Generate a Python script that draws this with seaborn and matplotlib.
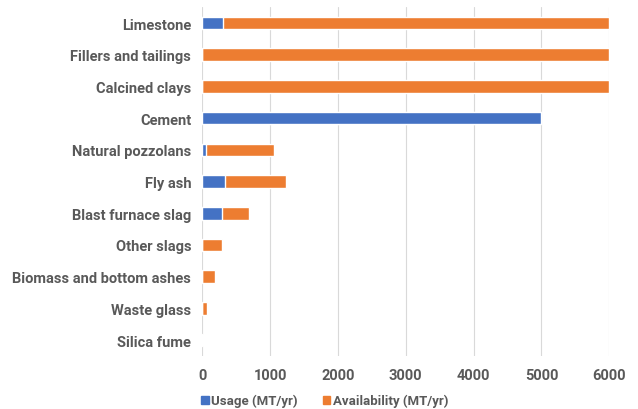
import matplotlib
matplotlib.use("Agg")
import matplotlib.pyplot as plt
from matplotlib.patches import Patch
import pandas as pd
import seaborn as sns

materials = [
    "Limestone", "Fillers and tailings", "Calcined clays", "Cement",
    "Natural pozzolans", "Fly ash", "Blast furnace slag", "Other slags",
    "Biomass and bottom ashes", "Waste glass", "Silica fume",
]
usage = [300, 0, 0, 5000, 60, 340, 290, 0, 0, 0, 0]
availability = [5700, 6000, 6000, 0, 1000, 900, 405, 290, 195, 70, 10]
x_ticks = [0, 1000, 2000, 3000, 4000, 5000, 6000]

BLUE = "#4472C4"
ORANGE = "#ED7D31"
TEXT = "#595959"

df = pd.DataFrame({"material": materials, "usage": usage, "availability": availability})
df["total"] = df["usage"] + df["availability"]

sns.set_theme(style="white")
plt.rcParams["font.family"] = ["Roboto", "DejaVu Sans"]

fig = plt.figure(figsize=(6.38, 4.10), dpi=100)
ax = fig.add_axes([0.317, 0.1295, 0.638, 0.8505])

# stacked look: full (usage + availability) bar, usage drawn over it
sns.barplot(data=df, y="material", x="total", color=ORANGE, saturation=1,
            width=0.4, orient="h", ax=ax, zorder=2)
sns.barplot(data=df, y="material", x="usage", color=BLUE, saturation=1,
            width=0.4, orient="h", ax=ax, zorder=3)

ax.set_xlim(0, 6000)
ax.set_xticks(x_ticks)
ax.set_xticklabels([str(t) for t in x_ticks])
ax.set_xlabel("")
ax.set_ylabel("")
ax.grid(axis="x", color="#D9D9D9", linewidth=0.8, zorder=0)
ax.set_axisbelow(True)
for s in ax.spines.values():
    s.set_visible(False)
ax.tick_params(axis="both", length=0, colors=TEXT, labelsize=10.5)
ax.tick_params(axis="x", pad=9)
ax.tick_params(axis="y", pad=8)
for lbl in ax.get_xticklabels() + ax.get_yticklabels():
    lbl.set_fontweight("bold")
    lbl.set_color(TEXT)

handles = [Patch(color=BLUE, label="Usage (MT/yr)"),
           Patch(color=ORANGE, label="Availability (MT/yr)")]
fig.legend(handles=handles, loc="lower left", bbox_to_anchor=(0.297, -0.025),
           ncol=2, frameon=False, handlelength=0.55, handleheight=0.55,
           handletextpad=0.2, columnspacing=1.9,
           prop={"weight": "bold", "size": 9.5}, labelcolor=TEXT)

fig.savefig("out.png", dpi=100)
